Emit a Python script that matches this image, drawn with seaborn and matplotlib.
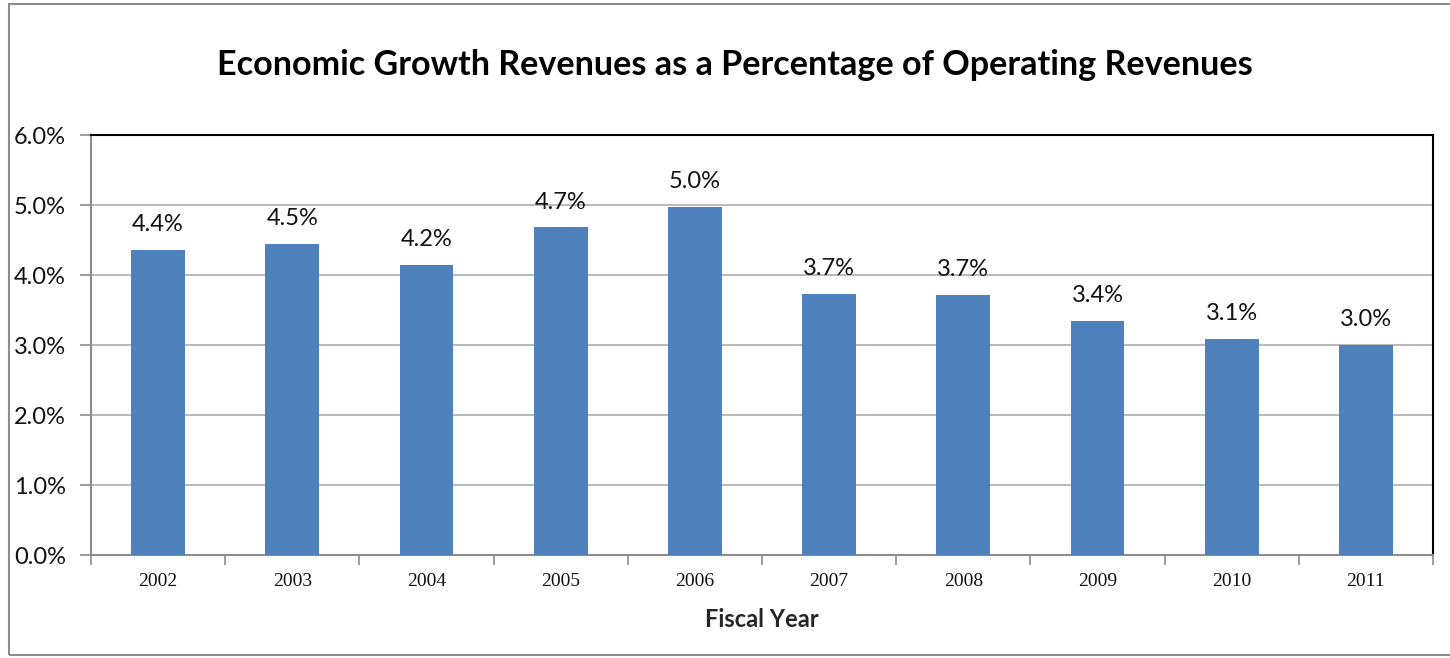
import matplotlib
matplotlib.use("Agg")
import matplotlib.pyplot as plt
import matplotlib.patches as mpatches
import seaborn as sns
import pandas as pd

years = ["2002", "2003", "2004", "2005", "2006", "2007", "2008", "2009", "2010", "2011"]
share_pct = [4.36, 4.45, 4.15, 4.68, 4.97, 3.73, 3.72, 3.35, 3.09, 3.00]
y_ticks = [0.0, 1.0, 2.0, 3.0, 4.0, 5.0, 6.0]

title = "Economic Growth Revenues as a Percentage of Operating Revenues"
x_label = "Fiscal Year"

sns.set_theme(style="white")
plt.rcParams["font.family"] = ["Lato", "DejaVu Sans"]

df = pd.DataFrame({"year": years, "share": share_pct})

fig = plt.figure(figsize=(14.5, 6.58), dpi=100)
ax = fig.add_axes([91 / 1450, 103 / 658, (1433 - 91) / 1450, (555 - 135) / 658])

sns.barplot(data=df, x="year", y="share", color="#4f81bd", width=0.4,
            saturation=1, linewidth=0, ax=ax, zorder=3)

ax.set_ylim(0, 6)
ax.set_xlim(-0.5, len(years) - 0.5)
ax.set_yticks(y_ticks)
ax.set_yticklabels([f"{v:.1f}%" for v in y_ticks], fontsize=17, color="#111111")
ax.yaxis.grid(True, color="#b3b3b3", linewidth=1.3, zorder=0)
ax.set_axisbelow(True)

# category boundary ticks on x axis
ax.set_xticks([i - 0.5 for i in range(len(years) + 1)], minor=False)
ax.set_xticklabels([])
ax.set_xticks(range(len(years)), minor=True)
ax.set_xticklabels(years, minor=True, fontsize=14, family="Liberation Serif",
                   color="#111111")
ax.tick_params(axis="x", which="major", length=7, color="#8c8c8c", width=1.2,
               direction="out", bottom=True)
ax.tick_params(axis="x", which="minor", length=0, pad=13)
ax.tick_params(axis="y", length=8, color="#8c8c8c", width=1.2, left=True, pad=10)

for side in ["left", "bottom"]:
    ax.spines[side].set_color("#8c8c8c")
    ax.spines[side].set_linewidth(1.5)
for side in ["top", "right"]:
    ax.spines[side].set_color("#000000")
    ax.spines[side].set_linewidth(1.5)

for i, v in enumerate(share_pct):
    ax.text(i, v + 0.21, f"{v:.1f}%", ha="center", va="bottom", fontsize=17,
            color="#111111")

ax.set_xlabel(x_label, fontsize=17, fontweight="bold", labelpad=13)
ax.set_ylabel("")

fig.text(735 / 1450, 1 - 65 / 658, title, ha="center", va="center",
         fontsize=24.6, fontweight="bold", color="#000000")

# outer chart border
fig.patches.append(mpatches.Rectangle((9 / 1450, 3 / 658), 1.0, 651 / 658,
                                      transform=fig.transFigure, fill=False,
                                      edgecolor="#8c8c8c", linewidth=1.5))

fig.savefig("out.png", dpi=100)
